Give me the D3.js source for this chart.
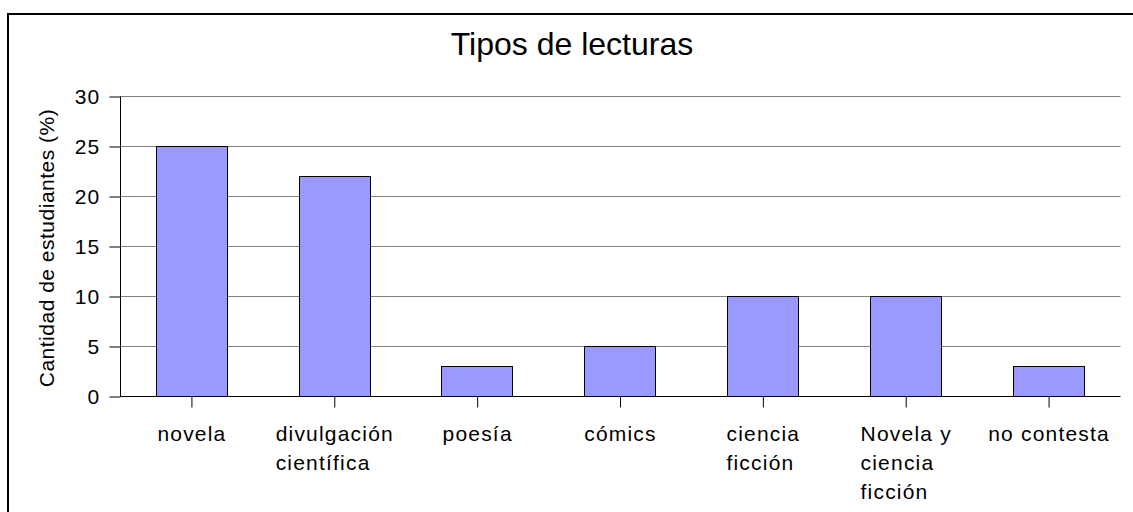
<!DOCTYPE html>
<html>
<head>
<meta charset="utf-8">
<script src="https://cdnjs.cloudflare.com/ajax/libs/d3/7.8.5/d3.min.js"></script>
<style>
  body { margin: 0; background: #fff; }
  text { font-family: "Liberation Sans", Arial, sans-serif; fill: #000; }
</style>
</head>
<body>
<div id="chart"></div>
<script>
// data
var categories = ["novela", "divulgación científica", "poesía", "cómics",
                  "ciencia ficción", "Novela y ciencia ficción", "no contesta"];
var labelLines = [["novela"], ["divulgación", "científica"], ["poesía"], ["cómics"],
                  ["ciencia", "ficción"], ["Novela y", "ciencia", "ficción"], ["no contesta"]];
var values = [25, 22, 3, 5, 10, 10, 3];
var yTicks = [0, 5, 10, 15, 20, 25, 30];
var title = "Tipos de lecturas";
var yTitle = "Cantidad de estudiantes (%)";

// dimensions
var width = 1133;
var height = 512;
var margin = { top: 96, bottom: 116, left: 120, right: 13 };

var svg = d3.select("#chart")
    .append("svg")
    .attr("width", width)
    .attr("height", height);

// outer frame
svg.append("rect")
    .attr("x", 8)
    .attr("y", 14)
    .attr("width", 1400)
    .attr("height", 800)
    .attr("fill", "none")
    .attr("stroke", "#000")
    .attr("stroke-width", 2);

var innerW = width - margin.left - margin.right;
var innerH = height - margin.top - margin.bottom;

var x = d3.scaleBand().domain(categories).range([0, innerW]).paddingInner(0.5).paddingOuter(0.25);
var y = d3.scaleLinear().domain([0, 30]).range([innerH, 0]);

var g = svg.append("g")
    .attr("transform", "translate(" + margin.left + ".5," + margin.top + ".5)");

// gridlines
g.append("g")
    .selectAll("line")
    .data(yTicks.filter(function(d) { return d > 0; }))
    .enter().append("line")
    .attr("x1", 0)
    .attr("x2", innerW)
    .attr("y1", function(d) { return y(d); })
    .attr("y2", function(d) { return y(d); })
    .attr("stroke", "#808080")
    .attr("stroke-width", 1);

// bars
g.selectAll(".bar")
    .data(values)
    .enter().append("rect")
    .attr("class", "bar")
    .attr("x", function(d, i) { return Math.round(x(categories[i])); })
    .attr("y", function(d) { return y(d); })
    .attr("width", Math.round(x.bandwidth()))
    .attr("height", function(d) { return innerH - y(d); })
    .attr("fill", "#9999FF")
    .attr("stroke", "#000")
    .attr("stroke-width", 1);

// y axis
var yAxis = g.append("g")
    .call(d3.axisLeft(y).tickValues(yTicks).tickSize(11).tickPadding(9));
yAxis.select(".domain").attr("stroke", "#000").attr("d", "M0,0V" + innerH);
yAxis.selectAll(".tick line").attr("stroke", "#000");
yAxis.selectAll(".tick text")
    .attr("font-size", "21px")
    .attr("font-family", "Liberation Sans, Arial, sans-serif")
    .style("letter-spacing", "1.2px");

// x axis
var xAxis = g.append("g")
    .attr("transform", "translate(0," + innerH + ")")
    .call(d3.axisBottom(x).tickSize(11).tickFormat(""));
xAxis.select(".domain").attr("stroke", "#000").attr("d", "M0,0H" + innerW);
xAxis.selectAll(".tick line").attr("stroke", "#000");

// multi-line category labels: left-aligned block centered on the tick
categories.forEach(function(c, i) {
  var t = g.append("text")
      .attr("font-size", "21px")
      .style("letter-spacing", "1.2px")
      .attr("text-anchor", "start");
  labelLines[i].forEach(function(line, j) {
    t.append("tspan")
        .attr("x", 0)
        .attr("y", innerH + 44 + j * 29)
        .text(line);
  });
  var w = t.node().getBBox().width;
  t.attr("transform", "translate(" + (x(c) + x.bandwidth() / 2 - w / 2) + ",0)");
});

// title
svg.append("text")
    .attr("x", 572)
    .attr("y", 55)
    .attr("text-anchor", "middle")
    .attr("font-size", "32px")
    .text(title);

// y axis title
svg.append("text")
    .attr("transform", "translate(54,248) rotate(-90)")
    .attr("text-anchor", "middle")
    .attr("font-size", "21px")
    .style("letter-spacing", "0.5px")
    .text(yTitle);
</script>
</body>
</html>
